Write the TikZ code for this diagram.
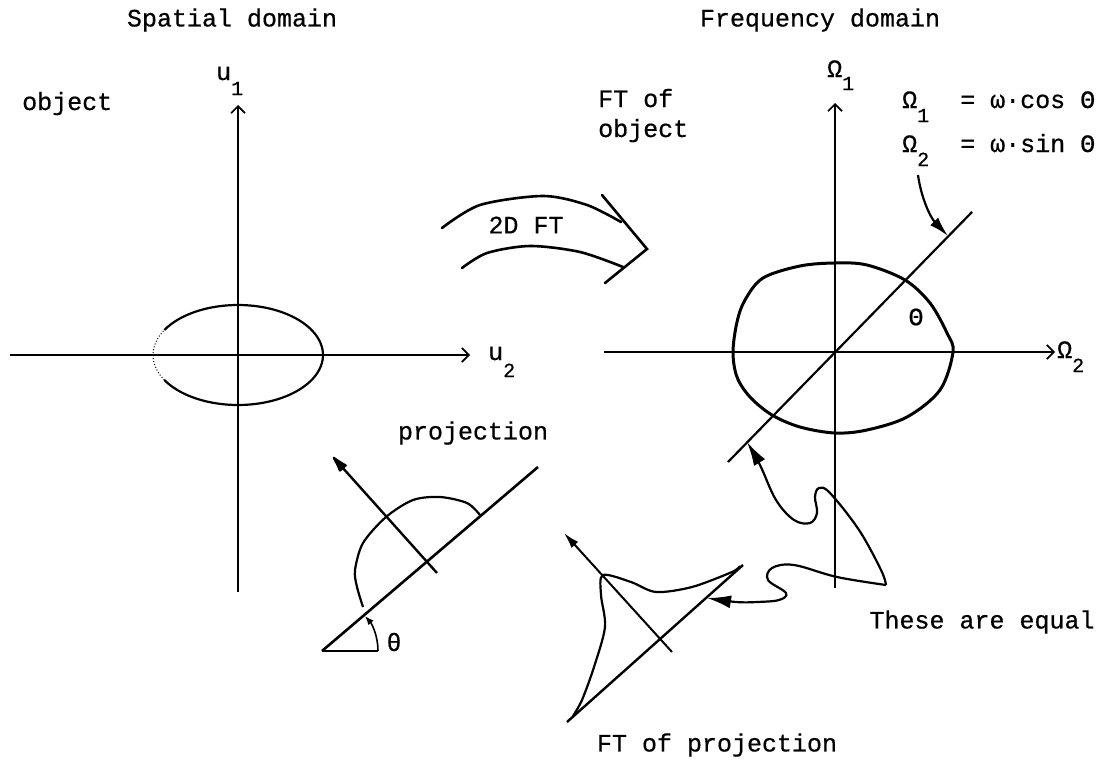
\documentclass[tikz,border=0pt]{standalone}
\usepackage{fontspec}
\newfontfamily\cour[FakeBold=0.6]{Liberation Mono}
\usetikzlibrary{arrows.meta}
\newcommand{\subf}{\fontsize{20}{20}\selectfont}
\begin{document}
\begin{tikzpicture}[x=1pt,y=-1pt,
  txt/.style={font=\cour\fontsize{25}{28}\selectfont, inner sep=0pt},
  axis/.style={line width=1.7pt, -{Straight Barb[length=7pt,width=14pt]}},
  fta/.style={line width=2.6pt, line cap=round},
  thin/.style={line width=1.6pt},
  mid/.style={line width=2.2pt},
  thick3/.style={line width=3pt},
  bigarrow/.style={line width=2.2pt, -{Latex[length=24pt,width=13pt]}},
]
\path[use as bounding box] (0,0) rectangle (1109,763);

% titles
\node[txt] (tsp) at (232,20) {Spatial domain};
\node[txt] (tfr) at (820,20) {Frequency domain};

% ---------- spatial domain ----------
\node[txt, anchor=base west] (tobj) at (22,110) {object};
\coordinate (u1b) at (238,592); \coordinate (u1t) at (238,105);
\coordinate (u2l) at (10,355);  \coordinate (u2r) at (470,355);
\draw[axis] (u1b) -- (u1t);
\draw[axis] (u2l) -- (u2r);
\node[txt, anchor=base west] (lu1) at (216,80) {u\raisebox{-15pt}{\subf 1}};
\node[txt, anchor=base west] (lu2) at (488,360) {u\raisebox{-17pt}{\subf 2}};
\draw[mid] plot[domain=-150:150, samples=80, smooth] ({238+85*cos(\x)},{355+50*sin(\x)});
\draw[line width=1pt, dotted] plot[domain=150:210, samples=20, smooth] ({238+85*cos(\x)},{355+50*sin(\x)});

% ---------- 2D FT arrow ----------
\node[txt] (t2d) at (526,225) {2D FT};
\coordinate (fb1) at (602,195); \coordinate (ftip) at (647,249); \coordinate (fb2) at (605,283);
\draw[fta] plot[smooth] coordinates {(442,228) (480,205) (543,196) (587,205) (621,222)};
\draw[fta] plot[smooth] coordinates {(462,268) (487,253) (530,246) (580,252) (623,267)};
\draw[fta, line join=miter] (fb1) -- (ftip) -- (fb2);

% ---------- frequency domain ----------
\node[txt, anchor=base west] (tft1) at (598,107) {FT of};
\node[txt, anchor=base west] (tft2) at (598,137) {object};
\coordinate (O1b) at (835,588); \coordinate (O1t) at (835,103);
\coordinate (O2l) at (604,352); \coordinate (O2r) at (1055,352);
\draw[axis] (O1b) -- (O1t);
\draw[axis] (O2l) -- (O2r);
\node[txt, anchor=base west] (lO1) at (827,77) {Ω\raisebox{-13pt}{\subf 1}};
\node[txt, anchor=base west] (lO2) at (1057,358) {Ω\raisebox{-14pt}{\subf 2}};
\node[txt, anchor=base west] (eq1) at (902,108) {Ω\raisebox{-14pt}{\subf 1}\hspace{31pt}= ω·cos Θ};
\node[txt, anchor=base west] (eq2) at (902,152) {Ω\raisebox{-14pt}{\subf 2}\hspace{31pt}= ω·sin Θ};

\draw[thick3] plot[smooth cycle, tension=0.55] coordinates {
 (733,352) (737,322) (745,300) (763,278) (800,266) (835,263) (867,265) (905,280)
 (930,303) (947,333) (953,352) (940,390) (907,417) (867,430) (835,433) (800,427)
 (772,415) (750,397) (737,377)};
\coordinate (dlo) at (728,462); \coordinate (dhi) at (972,212);
\draw[mid] (dlo) -- (dhi);
\node[txt] (th) at (916,317) {Θ};
\coordinate (astart) at (918,175); \coordinate (aend) at (948,236);
\draw[mid, -{Latex[length=20pt,width=11pt]}] (astart) .. controls (921,197) and (930,217) .. (aend);

% ---------- projection ----------
\node[txt] (tproj) at (473,433) {projection};
\coordinate (pl0) at (322,651); \coordinate (pl1) at (538,467);
\coordinate (pa0) at (437,573); \coordinate (pa1) at (333,457);
\draw[line width=2.6pt] (pl0) -- (pl1);
\draw[line width=2.4pt, -{Latex[length=22pt,width=11pt,round]}] (pa0) -- (pa1);
\draw[mid] plot[smooth] coordinates {(363,607) (357,587) (355,570) (363,543) (386,517) (413,500) (440,497) (467,503) (480,515)};
\coordinate (hz) at (378,651); \coordinate (thend) at (365,616);
\draw[thin] (pl0) -- (hz);
\draw[thin, -{Latex[length=9pt,width=7pt]}] (hz) .. controls (378,636) and (372,624) .. (thend);
\node[txt] (lth) at (394,642) {θ};

% ---------- FT of projection ----------
\coordinate (fl0) at (567,722); \coordinate (fl1) at (743,565);
\coordinate (fa0) at (672,652); \coordinate (fa1) at (564,533);
\draw[line width=2.4pt] (fl0) -- (fl1);
\draw[line width=2pt, -{Latex[length=16pt,width=9pt]}] (fa0) -- (fa1);
\draw[mid] plot[smooth] coordinates {(573,716) (582,700) (594,667) (605,627) (601,595) (603,575) (631,582) (656,592) (692,587) (732,572) (740,566)};
\node[txt] (tftp) at (717,745) {FT of projection};

% ---------- these are equal ----------
\node[txt] (teq) at (982,622) {These are equal};
\coordinate (eqp) at (886,585);
\coordinate (tip1) at (747,442); \coordinate (tip2) at (707,598);
\draw[bigarrow] plot[smooth, tension=0.6] coordinates {(eqp) (881,570) (859,530) (830,493) (819,488) (815,497) (817,513) (810,523) (794,520) (776,500) (760,465) (tip1)};
\draw[bigarrow] plot[smooth, tension=0.6] coordinates {(eqp) (837,577) (794,565) (772,568) (768,580) (786,593) (779,600) (757,602) (736,602) (tip2)};
\end{tikzpicture}
\end{document}
